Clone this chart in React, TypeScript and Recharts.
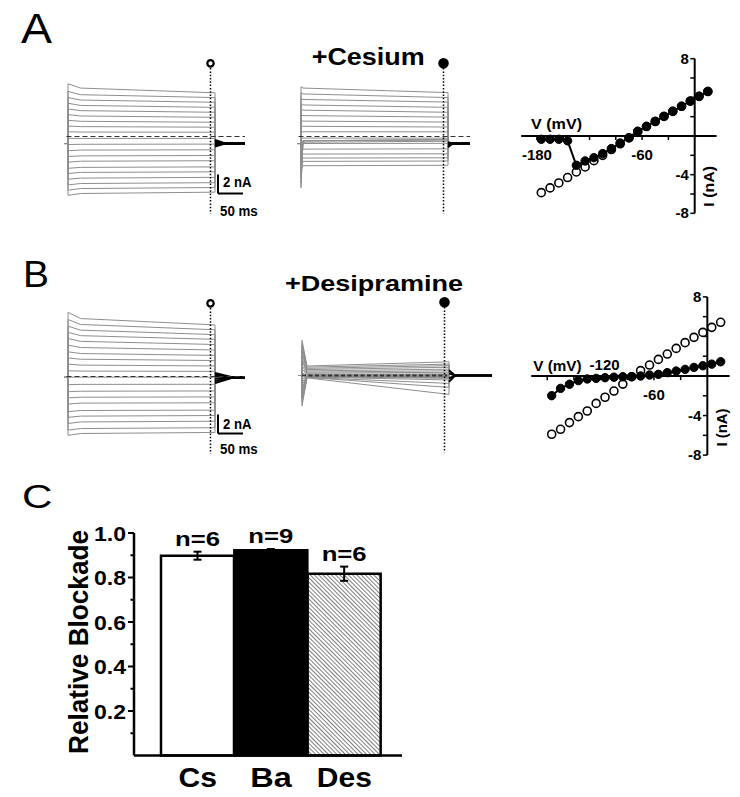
import React from "react";
import {
  LineChart,
  Line,
  XAxis,
  YAxis,
  ReferenceLine,
  ReferenceDot,
  BarChart,
  Bar,
  Cell,
  ErrorBar,
  LabelList,
} from "recharts";

const FONT = '"Liberation Sans", Arial, sans-serif';

// step potentials of the protocol (mV)
const volts = [-175, -165, -155, -145, -135, -125, -115, -105, -95, -85, -75, -65, -55, -45, -35, -25, -15, -5, 5, 15];

// panel A, current at the measuring point (nA)
const ctlA = [-5.86, -5.37, -4.86, -4.3, -3.72, -3.2, -2.55, -2.0, -1.4, -0.8, -0.2, 0.45, 0.98, 1.5, 2.02, 2.55, 3.07, 3.6, 4.1, 4.6];
const csA = [-0.34, -0.34, -0.34, -0.5, -3.03, -2.58, -2.24, -1.82, -1.3, -0.72, -0.17, 0.49, 1.0, 1.52, 2.04, 2.55, 3.07, 3.62, 4.1, 4.62];
// panel B
const ctlB = [-5.89, -5.39, -4.71, -4.11, -3.54, -2.77, -2.15, -1.52, -0.82, -0.07, 0.54, 1.11, 1.68, 2.22, 2.79, 3.37, 3.91, 4.41, 4.92, 5.43];
const desB = [-1.99, -1.25, -0.83, -0.47, -0.3, -0.24, -0.17, -0.12, -0.07, -0.07, 0.0, 0.1, 0.17, 0.34, 0.5, 0.67, 0.87, 1.04, 1.2, 1.44];

// current at step onset and shortly after (nA)
const ctlAOnset = [-6.2, -5.65, -5.1, -4.5, -3.9, -3.35, -2.7, -2.1, -1.5, -0.85, -0.2, 0.5, 1.1, 1.7, 2.3, 2.9, 3.5, 4.1, 4.75, 5.55];
const ctlAEarly = [-6.0, -5.48, -4.95, -4.38, -3.78, -3.25, -2.6, -2.04, -1.43, -0.82, -0.2, 0.47, 1.04, 1.6, 2.16, 2.72, 3.27, 3.84, 4.4, 5.1];
const csAOnset = [-5.4, -4.9, -4.4, -3.9, -3.5, -3.1, -2.6, -2.0, -1.4, -0.8, -0.2, 0.5, 1.1, 1.65, 2.25, 2.85, 3.4, 4.0, 4.6, 5.25];
const csAEarly = [-0.45, -0.45, -0.45, -0.6, -3.08, -2.62, -2.27, -1.85, -1.33, -0.74, -0.17, 0.5, 1.07, 1.62, 2.2, 2.77, 3.32, 3.9, 4.48, 5.1];
const ctlBOnset = [-6.2, -5.65, -4.95, -4.3, -3.7, -2.9, -2.25, -1.6, -0.86, -0.07, 0.6, 1.3, 1.95, 2.6, 3.3, 4.0, 4.65, 5.3, 6.0, 6.75];
const ctlBEarly = [-6.0, -5.48, -4.78, -4.17, -3.58, -2.8, -2.18, -1.55, -0.83, -0.07, 0.57, 1.2, 1.82, 2.42, 3.05, 3.7, 4.3, 4.88, 5.48, 6.1];
const desBOnset = [-3.2, -2.8, -2.5, -2.3, -1.9, -1.6, -1.4, -1.0, -0.7, -0.4, 0.3, 0.7, 1.1, 1.6, 1.9, 2.4, 2.7, 3.1, 3.4, 3.7];
const desBEarly = [-0.25, -0.2, -0.2, -0.16, -0.12, -0.1, -0.08, -0.06, -0.05, -0.04, 0.0, 0.07, 0.12, 0.24, 0.35, 0.48, 0.62, 0.75, 0.88, 1.0];

// tail currents back at the holding potential (nA)
const tailA = [-1.05, -0.92, -0.8, -0.62, -0.48, -0.35];
const tailCs = [-1.13, -0.96, -0.82, -0.66, -0.6];
const tailB = [0.36, 0.18, 0.02, -0.24, -0.48, -0.7];
const tailDes = [0.56, 0.22, -0.3, -0.67];

// panel C
const agents = ["Cs", "Ba", "Des"];
const blockade = [0.898, 0.923, 0.817];
const blockadeSem = [0.018, 0.005, 0.032];
const nCells = [6, 9, 6];
const blockTicks = [0.1, 0.2, 0.3, 0.4, 0.5, 0.6, 0.7, 0.8, 0.9, 1.0];

const STEP_END = 294; // ms
const MEAS_T = 285; // ms

type Pt = { t: number; v: number };

function buildTraces(onset: number[], early: number[], steady: number[], hold: number, tEarly: number): Pt[][] {
  return steady.map((s, i) => [
    { t: -8, v: hold },
    { t: 0, v: hold },
    { t: 0, v: onset[i] },
    { t: tEarly, v: early[i] },
    { t: STEP_END, v: s },
    { t: STEP_END, v: hold },
  ]);
}

function buildTails(tails: number[], hold: number, tSettle: number, tStop: number): Pt[][] {
  return tails.map((v) => [
    { t: STEP_END, v },
    { t: tSettle, v: hold },
    { t: tStop, v: hold },
  ]);
}

function Txt({ x, y, size, children, w, bold = true, anchor = "start", rotate }: any) {
  return (
    <text
      x={x}
      y={y}
      fontSize={size}
      fontWeight={bold ? 700 : 400}
      fontFamily={FONT}
      textAnchor={anchor}
      textLength={w}
      lengthAdjust={w ? "spacingAndGlyphs" : undefined}
      transform={rotate ? `rotate(${rotate} ${x} ${y})` : undefined}
      fill="#000"
    >
      {children}
    </text>
  );
}

function TracePanel({ left, top, traces, tails, filled, dashFrom, dashTo, dashWidth = 1.2, dash = "5 3", scaleBar }: any) {
  return (
    <div style={{ position: "absolute", left, top }}>
      <LineChart width={200} height={171} margin={{ top: 0, right: 0, bottom: 0, left: 0 }}>
        <XAxis type="number" dataKey="t" domain={[-10, 390]} hide />
        <YAxis type="number" domain={[-9, 9]} hide />
        {traces.map((d: Pt[], i: number) => (
          <Line key={"tr" + i} data={d} dataKey="v" type="linear" stroke="#8e8e8e" strokeWidth={1} dot={false} activeDot={false} isAnimationActive={false} />
        ))}
        {tails.map((d: Pt[], i: number) => (
          <Line key={"tl" + i} data={d} dataKey="v" type="linear" stroke="#000" strokeWidth={2} dot={false} activeDot={false} isAnimationActive={false} />
        ))}
        <ReferenceLine segment={[{ x: dashFrom, y: 0 }, { x: dashTo, y: 0 }]} stroke="#333" strokeWidth={dashWidth} strokeDasharray={dash} />
        <ReferenceLine segment={[{ x: MEAS_T, y: 7.2 }, { x: MEAS_T, y: -8.1 }]} stroke="#000" strokeWidth={1.5} strokeDasharray="1.5 1.8" />
        <ReferenceDot x={MEAS_T} y={7.7} r={filled ? 4.2 : 3.2} fill={filled ? "#000" : "#fff"} stroke="#000" strokeWidth={2.2} />
        {scaleBar && <ReferenceLine segment={[{ x: 300, y: -4 }, { x: 300, y: -6 }]} stroke="#000" strokeWidth={2} />}
        {scaleBar && <ReferenceLine segment={[{ x: 300, y: -6 }, { x: 350, y: -6 }]} stroke="#000" strokeWidth={2} />}
      </LineChart>
    </div>
  );
}

function AxisNum(props: any) {
  const { viewBox, text, mode } = props;
  if (!viewBox) return null;
  let x = viewBox.x;
  let y = viewBox.y;
  let anchor = "middle";
  if (mode === "below") y += 23.5;
  else if (mode === "above") {
    x += 4;
    y -= 6;
  } else {
    x -= 1.5;
    y += 5;
    anchor = "end";
  }
  return (
    <text x={x} y={y} textAnchor={anchor} fontSize={15} fontWeight={700} fontFamily={FONT} fill="#000">
      {text}
    </text>
  );
}

const ivXTicks = [-180, -150, -120, -90, -60, -30];
const ivYTicks = [-8, -6, -4, -2, 2, 4, 6, 8];

function IVPanel({ left, top, width, height, ctl, drug, xLabels }: any) {
  const rows = volts.map((v, i) => ({ v, ctl: ctl[i], drug: drug[i] }));
  const yLabels: Record<number, string> = { 8: "8", [-4]: "-4", [-8]: "-8" };
  return (
    <div style={{ position: "absolute", left, top }}>
      <LineChart width={width} height={height} data={rows} margin={{ top: 0, right: 0, bottom: 0, left: 0 }}>
        <XAxis type="number" dataKey="v" domain={[-205, 30]} hide />
        <YAxis type="number" domain={[-9, 9]} hide />
        <ReferenceLine segment={[{ x: -198, y: 0 }, { x: 25, y: 0 }]} stroke="#000" strokeWidth={2} />
        <ReferenceLine segment={[{ x: 0, y: -8 }, { x: 0, y: 8 }]} stroke="#000" strokeWidth={2} />
        {ivXTicks.map((t) => (
          <ReferenceLine
            key={"x" + t}
            segment={[{ x: t, y: 0 }, { x: t, y: -0.42 }]}
            stroke="#000"
            strokeWidth={1.5}
            label={xLabels[t] ? <AxisNum text={String(t)} mode={xLabels[t]} /> : undefined}
          />
        ))}
        {ivYTicks.map((t) => (
          <ReferenceLine
            key={"y" + t}
            segment={[{ x: -5, y: t }, { x: 0, y: t }]}
            stroke="#000"
            strokeWidth={1.5}
            label={yLabels[t] ? <AxisNum text={yLabels[t]} mode="left" /> : undefined}
          />
        ))}
        <Line dataKey="ctl" stroke="none" dot={{ r: 4, fill: "#fff", stroke: "#000", strokeWidth: 1.6 }} activeDot={false} isAnimationActive={false} />
        <Line dataKey="drug" stroke="#000" strokeWidth={2} dot={{ r: 4.2, fill: "#000", stroke: "#000", strokeWidth: 1 }} activeDot={false} isAnimationActive={false} />
      </LineChart>
    </div>
  );
}

function BlockTick(props: any) {
  const { x, y, payload } = props;
  const major = Math.round(payload.value * 10) % 2 === 0;
  return (
    <g>
      <line x1={x - (major ? 6 : 3.5)} x2={x} y1={y} y2={y} stroke="#000" strokeWidth={2} />
      {major && (
        <text x={x - 8} y={y + 7.5} textAnchor="end" fontSize={20} fontWeight={700} fontFamily={FONT} textLength={32} lengthAdjust="spacingAndGlyphs" fill="#000">
          {payload.value.toFixed(1)}
        </text>
      )}
    </g>
  );
}

const agentWidths: Record<string, number> = { Cs: 38.5, Ba: 41.5, Des: 55 };

function AgentTick(props: any) {
  const { x, y, payload } = props;
  return (
    <text x={x} y={y + 31.2} textAnchor="middle" fontSize={28} fontWeight={700} fontFamily={FONT} textLength={agentWidths[payload.value]} lengthAdjust="spacingAndGlyphs" fill="#000">
      {payload.value}
    </text>
  );
}

function NLabel(props: any) {
  const { x, y, width, height, value, index } = props;
  const errPx = (blockadeSem[index] * height) / blockade[index];
  return (
    <text x={x + width / 2} y={y - errPx - 6} textAnchor="middle" fontSize={20} fontWeight={700} fontFamily={FONT} textLength={45} lengthAdjust="spacingAndGlyphs" fill="#000">
      {"n=" + value}
    </text>
  );
}

function BlockadeBars() {
  const rows = agents.map((name, i) => ({ name, value: blockade[i], err: blockadeSem[i], n: nCells[i] }));
  const fills = ["#fff", "#000", "url(#hatch)"];
  return (
    <div style={{ position: "absolute", left: 0, top: 520 }}>
      <BarChart width={420} height={277} data={rows} margin={{ top: 13, right: 18, left: 0, bottom: 0 }} barCategoryGap={0} barGap={0}>
        <XAxis
          dataKey="name"
          padding={{ left: 27, right: 21 }}
          axisLine={{ stroke: "#000", strokeWidth: 2.5 }}
          tickLine={false}
          tickSize={0}
          tickMargin={0}
          height={41.5}
          interval={0}
          tick={<AgentTick />}
        />
        <YAxis
          type="number"
          domain={[0, 1]}
          ticks={blockTicks}
          width={134}
          axisLine={{ stroke: "#000", strokeWidth: 2.5 }}
          tickLine={false}
          tickSize={0}
          tickMargin={0}
          interval={0}
          tick={<BlockTick />}
        />
        <Bar dataKey="value" stroke="#000" strokeWidth={2.5} isAnimationActive={false}>
          {rows.map((r, i) => (
            <Cell key={r.name} fill={fills[i]} />
          ))}
          <ErrorBar dataKey="err" width={4} stroke="#000" strokeWidth={2} />
          <LabelList dataKey="n" content={<NLabel />} />
        </Bar>
      </BarChart>
    </div>
  );
}

export default function App() {
  const trA = buildTraces(ctlAOnset, ctlAEarly, ctlA, -0.74, 25);
  const trCs = buildTraces(csAOnset, csAEarly, csA, -0.74, 4);
  const trB = buildTraces(ctlBOnset, ctlBEarly, ctlB, -0.1, 25);
  const trDes = buildTraces(desBOnset, desBEarly, desB, 0, 10);

  return (
    <div style={{ position: "absolute", left: 0, top: 0, width: 740, height: 797, background: "#fff", overflow: "hidden" }}>
      <svg width={0} height={0} style={{ position: "absolute" }}>
        <defs>
          <pattern id="hatch" width={3} height={3} patternUnits="userSpaceOnUse" patternTransform="rotate(-45)">
            <rect width={3} height={3} fill="#fff" />
            <line x1={0} y1={0} x2={0} y2={3} stroke="#000" strokeWidth={1} />
          </pattern>
        </defs>
      </svg>

      <TracePanel left={63} top={50.5} traces={trA} tails={buildTails(tailA, -0.74, 314, 354)} dashFrom={-3} dashTo={354} scaleBar />
      <TracePanel left={295.7} top={50.5} traces={trCs} tails={buildTails(tailCs, -0.74, 303, 338)} filled dashFrom={-5} dashTo={338} />
      <TracePanel left={63} top={291.2} traces={trB} tails={buildTails(tailB, -0.1, 330, 354)} dashFrom={-3} dashTo={354} scaleBar />
      <TracePanel left={296.7} top={289.8} traces={trDes} tails={buildTails(tailDes, 0, 306, 380)} filled dashFrom={0} dashTo={290} dashWidth={2} dash="4 2.5" />

      <IVPanel left={515} top={48.7} width={206} height={174} ctl={ctlA} drug={csA} xLabels={{ [-180]: "below", [-60]: "below" }} />
      <IVPanel left={525} top={286.9} width={209} height={178} ctl={ctlB} drug={desB} xLabels={{ [-120]: "above", [-60]: "below" }} />

      <BlockadeBars />

      <svg width={740} height={797} style={{ position: "absolute", left: 0, top: 0, pointerEvents: "none" }}>
        <Txt x={21} y={43.3} size={42} w={31} bold={false}>A</Txt>
        <Txt x={23} y={286.7} size={37} w={26} bold={false}>B</Txt>
        <Txt x={22} y={507.8} size={34} w={30.5} bold={false}>C</Txt>

        <Txt x={311.7} y={65} size={23} w={113}>+Cesium</Txt>
        <Txt x={285} y={290.7} size={22} w={178}>+Desipramine</Txt>

        <Txt x={223} y={187.3} size={14.5} w={28.5}>2 nA</Txt>
        <Txt x={220} y={216} size={14.5} w={37.7}>50 ms</Txt>
        <Txt x={223} y={429} size={14.5} w={28.5}>2 nA</Txt>
        <Txt x={220} y={454.3} size={14.5} w={37.7}>50 ms</Txt>

        <Txt x={531} y={129.3} size={15} w={51}>V (mV)</Txt>
        <Txt x={533.3} y={370.7} size={15} w={48.3}>V (mV)</Txt>
        <Txt x={714} y={186.3} size={15} w={40.7} anchor="middle" rotate={-90}>I (nA)</Txt>
        <Txt x={726.7} y={427.5} size={15} w={38} anchor="middle" rotate={-90}>I (nA)</Txt>

        <Txt x={88.3} y={642} size={27} w={224} anchor="middle" rotate={-90}>Relative Blockade</Txt>
      </svg>
    </div>
  );
}
